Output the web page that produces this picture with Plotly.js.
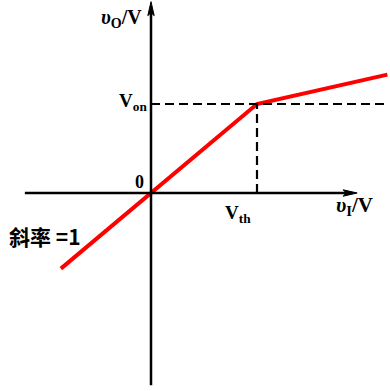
<!DOCTYPE html>
<html>
<head>
<meta charset="utf-8">
<script src="https://cdn.plot.ly/plotly-3.0.1.min.js"></script>
<style>html,body{margin:0;padding:0;background:#fff;}#chart{width:390px;height:391px;}</style>
</head>
<body>
<div id="chart"></div>
<script>
// Transfer characteristic data (Vth = 1, Von = 1, slope = 1 below knee)
const vI = [-0.85, 0, 1, 2.23];
const vO = [-0.85, 0, 1, 1.33];
const Vth = 1;
const Von = 1;
const dashX = [0, 2.24];

// axis extents
const xAxisMin = -1.19, xAxisMax = 1.945;
const yAxisMin = -2.16, yAxisMax = 2.15;
const xRange = [-1.4245, 2.2547];
const yRange = [-2.2247, 2.1685];

const W = 390, H = 391;
const sx = (xRange[1]-xRange[0])/W, sy = (yRange[1]-yRange[0])/H;

function arrowPath(tx, ty, dir){ // dir: 'up' or 'right'
  const L = 14, hw = 3.2, notch = 11;
  if(dir==='up'){
    return `M${tx},${ty} L${tx-hw*sx},${ty-L*sy} L${tx},${ty-notch*sy} L${tx+hw*sx},${ty-L*sy} Z`;
  }
  return `M${tx},${ty} L${tx-L*sx},${ty+hw*sy} L${tx-notch*sx},${ty} L${tx-L*sx},${ty-hw*sy} Z`;
}

const traces = [
  {x: vI, y: vO, mode: 'lines', line: {color: '#ff0000', width: 4}, hoverinfo: 'skip', showlegend: false}
];

const shapes = [
  {type:'line', x0:xAxisMin, x1:xAxisMax-8*sx, y0:0, y1:0, line:{color:'#000', width:2.5}},
  {type:'line', x0:0, x1:0, y0:yAxisMin, y1:yAxisMax-8*sy, line:{color:'#000', width:2.5}},
  {type:'path', path: arrowPath(xAxisMax, 0, 'right'), fillcolor:'#000', line:{color:'#000', width:1}},
  {type:'path', path: arrowPath(0, yAxisMax, 'up'), fillcolor:'#000', line:{color:'#000', width:1}},
  {type:'line', x0:dashX[0], x1:dashX[1], y0:Von, y1:Von, line:{color:'#000', width:2.2, dash:'9px,5px'}},
  {type:'line', x0:Vth, x1:Vth, y0:0, y1:Von, line:{color:'#000', width:2.2, dash:'9px,5px'}}
];

const serif = 'Liberation Serif, Times New Roman, serif';
const tf = (s)=>({family: serif, size: s, color: '#000', weight: 'bold'});
function P(px, py){ return {x: px/W, y: 1-py/H}; }

const ann = [];
function lab(text, px, py, xa, size, family){
  const p = P(px, py);
  ann.push({xref:'paper', yref:'paper', x:p.x, y:p.y, xanchor:xa, yanchor:'middle', text:text, showarrow:false,
    font: family ? {family: family, size: size, color:'#000', weight:'bold'} : tf(size)});
}
lab('<b><i>υ</i><sub>O</sub>/V</b>', 144, 19, 'right', 20);
lab('<b>V<sub>on</sub></b>', 149, 102, 'right', 19);
lab('<b>0</b>', 139, 182, 'center', 18);
lab('<b>V<sub>th</sub></b>', 238, 214, 'center', 19);
lab('<b><i>υ</i><sub>I</sub>/V</b>', 354, 206, 'center', 21);
lab('<b>斜率 =1</b>', 7, 236, 'left', 21, 'Noto Sans CJK SC, serif');

const layout = {
  width: W, height: H,
  margin: {l:0, r:0, t:0, b:0, pad:0},
  paper_bgcolor: '#fff', plot_bgcolor: '#fff',
  xaxis: {range: xRange, visible: false, fixedrange: true},
  yaxis: {range: yRange, visible: false, fixedrange: true},
  shapes: shapes,
  annotations: ann,
  showlegend: false
};
Plotly.newPlot('chart', traces, layout, {staticPlot: true, displayModeBar: false});
</script>
</body>
</html>
